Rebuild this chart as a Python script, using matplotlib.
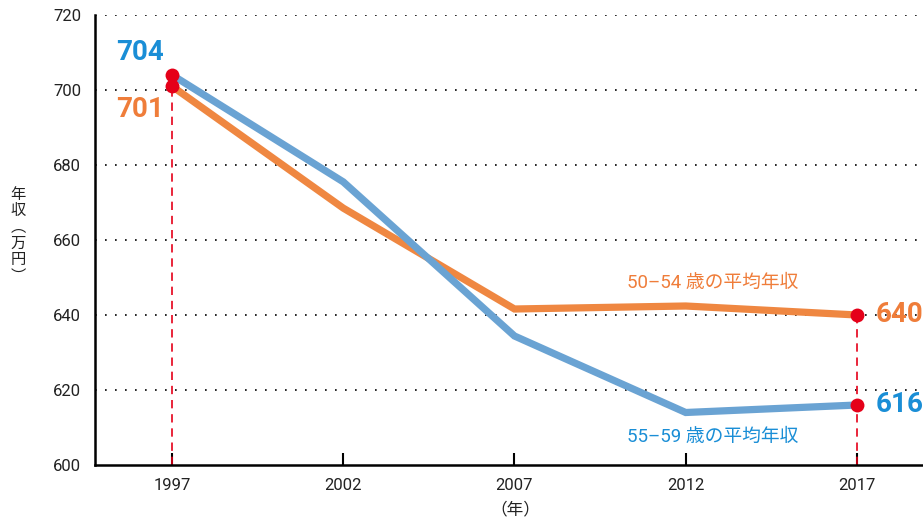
import matplotlib
matplotlib.use('Agg')
import matplotlib.pyplot as plt

plt.rcParams['font.family'] = ['Roboto', 'Noto Sans CJK JP', 'DejaVu Sans']

years = [1997, 2002, 2007, 2012, 2017]
age_50_54 = [701, 668.5, 641.6, 642.4, 640]
age_55_59 = [704, 675.5, 634.4, 614, 616]
y_ticks = [600, 620, 640, 660, 680, 700, 720]

blue = '#6aa3d3'
orange = '#ef8741'
red = '#e50019'
blue_txt = '#1a8ed6'
orange_txt = '#ef7d3a'

fig = plt.figure(figsize=(9.23, 5.23), dpi=100)
ax = fig.add_axes([95 / 923, 58 / 523, 828 / 923, 450 / 523])

# dotted grid
for v in y_ticks[1:]:
    ax.axhline(v, color='black', lw=1.2, ls=(0, (1, 5)), zorder=1)

# red dashed guides
ax.plot([years[0], years[0]], [600, age_55_59[0]], color=red, lw=1.2, ls=(0, (5, 3.5)), zorder=2)
ax.plot([years[-1], years[-1]], [600, age_50_54[-1]], color=red, lw=1.2, ls=(0, (5, 3.5)), zorder=2)

ax.plot(years, age_50_54, color=orange, lw=5.2, solid_joinstyle='miter', zorder=3)
ax.plot(years, age_55_59, color=blue, lw=5.2, solid_joinstyle='miter', zorder=3)

# red dots at both ends
ax.plot([years[0], years[0], years[-1], years[-1]],
        [age_55_59[0], age_50_54[0], age_50_54[-1], age_55_59[-1]],
        'o', color=red, ms=10, mec='none', zorder=5, clip_on=False)

# big value labels
ax.text(1996.06, 710.1, '704', color=blue_txt, fontsize=20, fontweight='bold', ha='center', va='center')
ax.text(1996.06, 694.7, '701', color=orange_txt, fontsize=20, fontweight='bold', ha='center', va='center')
ax.text(2017.55, 640, '640', color=orange_txt, fontsize=20, fontweight='bold', ha='left', va='center', clip_on=False)
ax.text(2017.55, 616, '616', color=blue_txt, fontsize=20, fontweight='bold', ha='left', va='center', clip_on=False)

# series labels
ax.text(2012.8, 648.5, '50–54 歳の平均年収', color=orange_txt, fontsize=13.5, ha='center', va='center',
        family=['Roboto', 'Noto Sans CJK JP'])
ax.text(2012.8, 607.5, '55–59 歳の平均年収', color=blue_txt, fontsize=13.5, ha='center', va='center',
        family=['Roboto', 'Noto Sans CJK JP'])

ax.set_xlim(1994.75, 2018.93)
ax.set_ylim(600, 720)
ax.set_xticks(years)
ax.set_xticklabels([str(y) for y in years])
ax.set_yticks(y_ticks)
ax.tick_params(axis='x', direction='in', length=8.5, width=1.5, pad=9, labelsize=12, colors='#222222')
ax.tick_params(axis='y', length=0, pad=10, labelsize=12, colors='#222222')
ax.tick_params(axis='x', color='black')

for s in ['top', 'right']:
    ax.spines[s].set_visible(False)
for s in ['left', 'bottom']:
    ax.spines[s].set_linewidth(1.8)
    ax.spines[s].set_color('black')

# vertical y label (vertical-form brackets)
fig.text(18 / 923, 1 - 235 / 523, '年\n収\n︵\n万\n円\n︶', fontsize=11, ha='center', va='center',
         linespacing=0.95, family=['Noto Sans CJK JP'], color='#222222')
fig.text(515 / 923, 1 - 510 / 523, '（年）', fontsize=12, ha='center', va='center',
         family=['Noto Sans CJK JP'], color='#222222')

fig.savefig('out.png', dpi=100)
